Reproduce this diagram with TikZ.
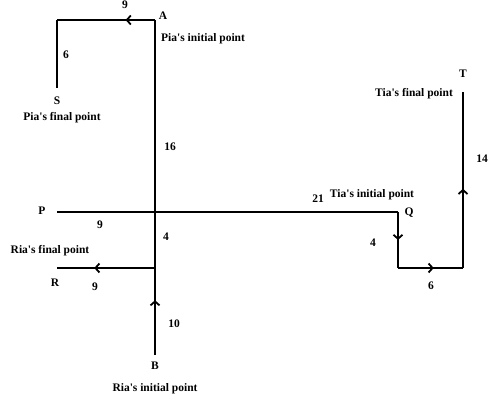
\documentclass[tikz,border=0pt]{standalone}
\usepackage{fontspec}
\setmainfont{Liberation Serif}
\usetikzlibrary{arrows.meta,decorations.markings}
\newcommand{\ap}{\textquotesingle}
\tikzset{
  path/.style={line width=2.4pt, line join=miter},
  lbl/.style={font=\bfseries\fontsize{11.5}{12}\selectfont, inner sep=0pt},
  midarrow/.style={postaction={decorate}, decoration={markings, mark=at position #1 with {\arrow{Straight Barb[length=4pt,width=9pt,line width=1.8pt]}}}}
}
\begin{document}
\begin{tikzpicture}[x=1pt,y=-1pt]
\useasboundingbox (0,0) rectangle (492,396);
% corner points
\coordinate (A) at (155,20);
\coordinate (A2) at (57,20);
\coordinate (S) at (57,88);
\coordinate (P) at (57,212);
\coordinate (O) at (155,212);
\coordinate (Q) at (398,212);
\coordinate (Q2) at (398,268);
\coordinate (T2) at (463,268);
\coordinate (T) at (463,92);
\coordinate (Rj) at (155,268);
\coordinate (R) at (57,268);
\coordinate (B) at (155,355);
% Pia
\draw[path, midarrow=0.3] (A) -- (A2);
\draw[path] (A2) -- (S);
\draw[path] (A) -- (O) -- (B);
% P-Q line
\draw[path] (P) -- (Q);
% Tia
\draw[path, midarrow=0.5] (Q) -- (Q2);
\draw[path, midarrow=0.55] (Q2) -- (T2);
\draw[path, midarrow=0.45] (T2) -- (T);
% Ria
\draw[path, midarrow=0.62] (Rj) -- (R);
\draw[path, midarrow=0.63] (B) -- (Rj);
% labels
\node[lbl] (l9a) at (125,5) {9};
\node[lbl] (lA) at (163,16) {A};
\node[lbl, anchor=west] (lPi) at (161,39) {Pia\ap s initial point};
\node[lbl] (l6a) at (66,55) {6};
\node[lbl] (lS) at (57,101) {S};
\node[lbl] (lPf) at (62,118) {Pia\ap s final point};
\node[lbl] (l16) at (170,147) {16};
\node[lbl] (lP) at (42,211) {P};
\node[lbl] (l9b) at (100,225) {9};
\node[lbl] (l4a) at (166,237) {4};
\node[lbl] (l21) at (318,199) {21};
\node[lbl] (lTi) at (372,195) {Tia\ap s initial point};
\node[lbl] (lQ) at (409,213) {Q};
\node[lbl] (lRf) at (50,251) {Ria\ap s final point};
\node[lbl] (lR) at (55,283) {R};
\node[lbl] (l9c) at (95,287) {9};
\node[lbl] (l10) at (174,324) {10};
\node[lbl] (lB) at (155,366) {B};
\node[lbl] (lRi) at (155,389) {Ria\ap s initial point};
\node[lbl] (lT) at (463,74) {T};
\node[lbl] (lTf) at (414,94) {Tia\ap s final point};
\node[lbl] (l14) at (482,159) {14};
\node[lbl] (l4b) at (373,243) {4};
\node[lbl] (l6b) at (431,286) {6};
\end{tikzpicture}
\end{document}
